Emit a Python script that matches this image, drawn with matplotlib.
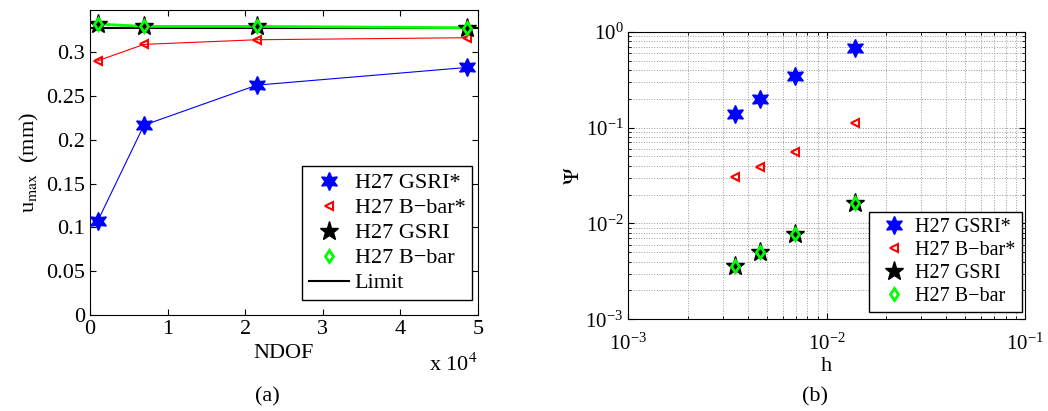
import numpy as np
import matplotlib
matplotlib.use("Agg")
import matplotlib.pyplot as plt
from matplotlib.ticker import FormatStrFormatter, LogLocator, NullFormatter

plt.rcParams['font.family'] = ['Liberation Serif', 'DejaVu Serif']
plt.rcParams['mathtext.fontset'] = 'stix'
plt.rcParams['font.size'] = 16

# (a) maximum displacement vs number of DOFs
ndof = [1000, 6950, 21500, 48600]
u_gsri_star = [0.1074, 0.2166, 0.2623, 0.2825]
u_bbar_star = [0.2901, 0.3088, 0.3141, 0.3164]
u_gsri = [0.3320, 0.3293, 0.3293, 0.3278]
u_bbar = [0.3320, 0.3293, 0.3293, 0.3278]
u_limit = 0.3274

# (b) error vs element size
h = [0.00345, 0.00461, 0.00692, 0.0139]
psi_gsri_star = [0.1375, 0.198, 0.342, 0.681]
psi_bbar_star = [0.0308, 0.0391, 0.056, 0.1107]
psi_gsri = [0.00363, 0.0050, 0.0077, 0.0162]
psi_bbar = [0.00363, 0.0050, 0.0077, 0.0162]

hexagram = (6, 1, 0)
green = (0, 1, 0)
minus = '\u2212'
labels = ['H27 GSRI*', 'H27 B' + minus + 'bar*', 'H27 GSRI', 'H27 B' + minus + 'bar']
styles = [dict(marker=hexagram, ms=13, mfc='b', mec='b'),
          dict(marker='<', ms=6, mfc='none', mec='r', mew=1.5),
          dict(marker='*', ms=14, mfc='k', mec='k'),
          dict(marker='d', ms=6, mfc='none', mec=green, mew=2)]

fig = plt.figure(figsize=(10.48, 4.11), dpi=100)

# ---- panel (a)
ax1 = fig.add_axes([0.0859, 0.2336, 0.3702, 0.742])
x1 = np.array(ndof) / 1e4
ys1 = [u_gsri_star, u_bbar_star, u_gsri, u_bbar]
line_cols = ['b', 'r', 'k', green]
line_ws = [0.8, 0.8, 0.8, 2.0]
ax1.axhline(u_limit, color='k', lw=1.5, zorder=1)
for y, c, lw, st, lab in zip(ys1, line_cols, line_ws, styles, labels):
    ax1.plot(x1, y, color=c, lw=lw, zorder=2)
    ax1.plot(x1, y, ls='none', label=lab, zorder=3, **st)
ax1.plot([], [], color='k', lw=1.5, label='Limit')
ax1.set_xlim(0, 5)
ax1.set_ylim(0, 0.348)
ax1.set_yticks(np.arange(0, 0.31, 0.05))
ax1.yaxis.set_major_formatter(FormatStrFormatter('%g'))
ax1.tick_params(direction='in', top=True, right=True, length=4, labelsize=16)
ax1.set_xlabel('NDOF', labelpad=4)
ax1.set_ylabel(r'u$_{\mathrm{max}}$  (mm)', labelpad=4)
ax1.text(1.0, -0.163, r'x 10$^4$', transform=ax1.transAxes, ha='right', va='center', fontsize=16)
leg1 = ax1.legend(loc='lower right', bbox_to_anchor=(0.9845, 0.049), borderaxespad=0,
                  fancybox=False, edgecolor='k', framealpha=1,
                  handlelength=1.8, handletextpad=0.25, borderpad=0.3, labelspacing=0.2,
                  fontsize=16)
leg1.get_frame().set_linewidth(1.0)
fig.text(0.255, 0.035, '(a)', ha='center', va='center', fontsize=16)

# ---- panel (b)
ax2 = fig.add_axes([0.5995, 0.223, 0.3785, 0.700])
ys2 = [psi_gsri_star, psi_bbar_star, psi_gsri, psi_bbar]
for y, st, lab in zip(ys2, styles, labels):
    ax2.loglog(h, y, ls='none', label=lab, **st)
ax2.set_xlim(1e-3, 1e-1)
ax2.set_ylim(1e-3, 1)
ax2.xaxis.set_minor_locator(LogLocator(base=10, subs=np.arange(2, 10)))
ax2.yaxis.set_minor_locator(LogLocator(base=10, subs=np.arange(2, 10)))
ax2.xaxis.set_minor_formatter(NullFormatter())
ax2.yaxis.set_minor_formatter(NullFormatter())
ax2.grid(True, which='both', ls=':', color='0.6', lw=0.7)
ax2.tick_params(which='both', direction='in', top=True, right=True, labelsize=15)
ax2.tick_params(axis='x', which='major', pad=10)
ax2.tick_params(which='major', length=4)
ax2.tick_params(which='minor', length=2)
ax2.set_xlabel('h', labelpad=2, fontsize=16)
ax2.set_ylabel(r'$\Psi$', labelpad=1, fontsize=16)
leg2 = ax2.legend(loc='lower right', bbox_to_anchor=(0.992, 0.025), borderaxespad=0,
                  fancybox=False, edgecolor='k', framealpha=1,
                  handlelength=1.9, handletextpad=0.1, borderpad=0.3, labelspacing=0.2,
                  fontsize=14.5)
leg2.get_frame().set_linewidth(1.0)
fig.text(0.778, 0.035, '(b)', ha='center', va='center', fontsize=16)

fig.savefig('out.png', dpi=100)
